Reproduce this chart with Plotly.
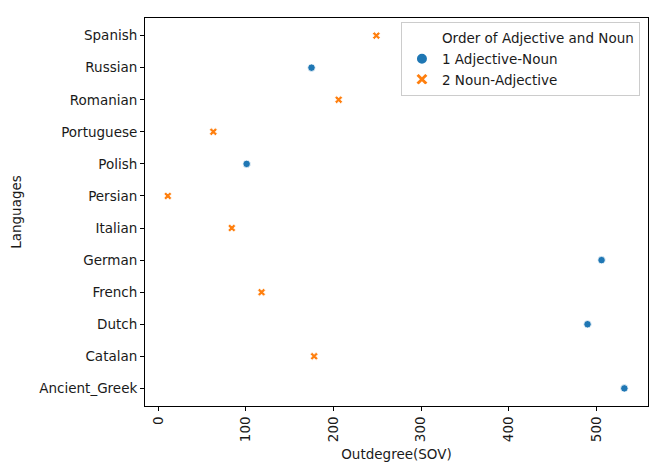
import plotly.graph_objects as go

languages = ['Ancient_Greek', 'Catalan', 'Dutch', 'French', 'German', 'Italian',
             'Persian', 'Polish', 'Portuguese', 'Romanian', 'Russian', 'Spanish']
outdegree = [532, 178, 490, 118, 506, 84, 11, 101, 63, 206, 175, 249]
order = ['1 Adjective-Noun', '2 Noun-Adjective', '1 Adjective-Noun', '2 Noun-Adjective',
         '1 Adjective-Noun', '2 Noun-Adjective', '2 Noun-Adjective', '1 Adjective-Noun',
         '2 Noun-Adjective', '2 Noun-Adjective', '1 Adjective-Noun', '2 Noun-Adjective']
x_ticks = [0, 100, 200, 300, 400, 500]

styles = {
    '1 Adjective-Noun': dict(color='#1f77b4', symbol='circle', size=7.5),
    '2 Noun-Adjective': dict(color='#ff7f0e', symbol='x', size=7),
}

fig = go.Figure()
# blank entry acts as the legend heading, like seaborn does
fig.add_trace(go.Scatter(x=[None], y=[None], mode='markers', name='Order of Adjective and Noun',
                         marker=dict(color='rgba(0,0,0,0)', size=1)))
for grp, st in styles.items():
    xs = [x for x, o in zip(outdegree, order) if o == grp]
    ys = [languages.index(l) for l, o in zip(languages, order) if o == grp]
    fig.add_trace(go.Scatter(x=xs, y=ys, mode='markers', name=grp,
                             marker=dict(color=st['color'], symbol=st['symbol'], size=st['size'],
                                         line=dict(color='white', width=0.8))))

fs = 13.5
axis_style = dict(showline=True, linecolor='black', linewidth=1, mirror=True,
                  ticks='outside', ticklen=4, tickcolor='black', showgrid=False, zeroline=False,
                  automargin=False, tickfont=dict(size=fs, color='#1a1a1a'))

# page body has an 8px margin, so the figure is kept a bit smaller than the window
fig.update_layout(
    width=657, height=468,
    margin=dict(l=137, r=17, t=10, b=70),
    plot_bgcolor='white', paper_bgcolor='white',
    font=dict(family='DejaVu Sans', size=fs, color='#1a1a1a'),
    xaxis=dict(range=[-15, 559], tickvals=x_ticks, tickangle=-90,
               title=dict(text='Outdegree(SOV)', standoff=8, font=dict(size=fs)), **axis_style),
    yaxis=dict(range=[-0.55, len(languages) - 0.45], tickvals=list(range(len(languages))),
               ticktext=languages, title=dict(text='Languages', standoff=14, font=dict(size=fs)),
               **axis_style),
    legend=dict(x=0.984, y=0.99, xanchor='right', yanchor='top', bordercolor='#cccccc',
                borderwidth=1, bgcolor='rgba(255,255,255,0.8)', font=dict(size=fs),
                itemsizing='constant', tracegroupgap=0),
    showlegend=True,
)

fig.write_html("out.html")
